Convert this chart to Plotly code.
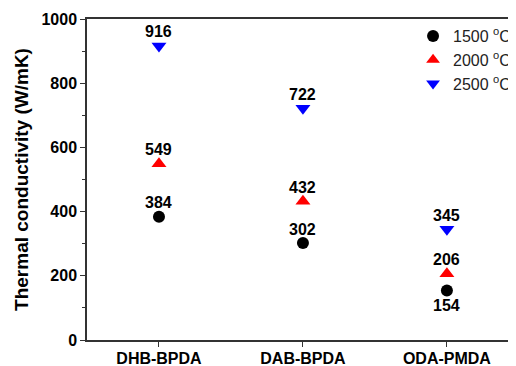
import plotly.graph_objects as go

categories = ["DHB-BPDA", "DAB-BPDA", "ODA-PMDA"]
t1500 = [384, 302, 154]
t2000 = [549, 432, 206]
t2500 = [916, 722, 345]
y_ticks = [0, 200, 400, 600, 800, 1000]

FONT = "Arial, Liberation Sans, sans-serif"
x_idx = list(range(len(categories)))

# the page body has an 8px margin; size the figure so it fills the 516x366 window
OFF = 8
W, H = 516 - OFF, 366 - OFF

fig = go.Figure()
fig.add_trace(go.Scatter(
    x=x_idx, y=t1500, mode="markers", name="1500 <sup>o</sup>C",
    marker=dict(symbol="circle", size=12, color="black"),
))
fig.add_trace(go.Scatter(
    x=x_idx, y=t2000, mode="markers", name="2000 <sup>o</sup>C",
    marker=dict(symbol="triangle-up", size=13, color="#ff0000"),
))
fig.add_trace(go.Scatter(
    x=x_idx, y=t2500, mode="markers", name="2500 <sup>o</sup>C",
    marker=dict(symbol="triangle-down", size=13, color="#0000ff"),
))

label_font = dict(family=FONT, size=16, color="black", weight="bold")
below = {(0, 2)}  # (series, category) labels placed under the marker
for si, series in enumerate([t1500, t2000, t2500]):
    for ci, v in enumerate(series):
        under = (si, ci) in below
        fig.add_annotation(
            x=x_idx[ci], y=v, text=str(v), showarrow=False,
            yshift=-15 if under else 14, font=label_font,
        )

fig.update_layout(
    width=W, height=H,
    margin=dict(l=87 - OFF, r=0, t=19 - OFF, b=366 - 340, autoexpand=False),
    paper_bgcolor="white", plot_bgcolor="white",
    font=dict(family=FONT, color="black"),
    showlegend=True,
    legend=dict(x=0.76, y=1.0, xanchor="left", yanchor="top",
                bgcolor="rgba(0,0,0,0)", font=dict(size=16, color="#222"),
                tracegroupgap=0, itemsizing="constant"),
    xaxis=dict(
        range=[-0.5, 2.48], tickmode="array", tickvals=x_idx, ticktext=categories,
        showline=True, linecolor="#333", linewidth=1.5, mirror=True,
        ticks="outside", ticklen=5, tickwidth=1.2, tickcolor="#333",
        showgrid=False, zeroline=False, ticklabelstandoff=-2,
        tickfont=dict(family=FONT, size=16, color="black", weight="bold"),
    ),
    yaxis=dict(
        range=[0, 1000], tickmode="array", tickvals=y_ticks,
        showline=True, linecolor="#333", linewidth=1.5, mirror=False,
        ticks="outside", ticklen=5, tickwidth=1.2, tickcolor="#333",
        minor=dict(ticks="outside", ticklen=3, dtick=100, tickcolor="#333", tickwidth=1.2, showgrid=False),
        showgrid=False, zeroline=False,
        tickfont=dict(family=FONT, size=16, color="black", weight="bold"),
        title=dict(text="Thermal conductivity (W/mK)", standoff=8,
                   font=dict(family=FONT, size=19, color="black", weight="bold")),
    ),
)

fig.write_html("out.html")
